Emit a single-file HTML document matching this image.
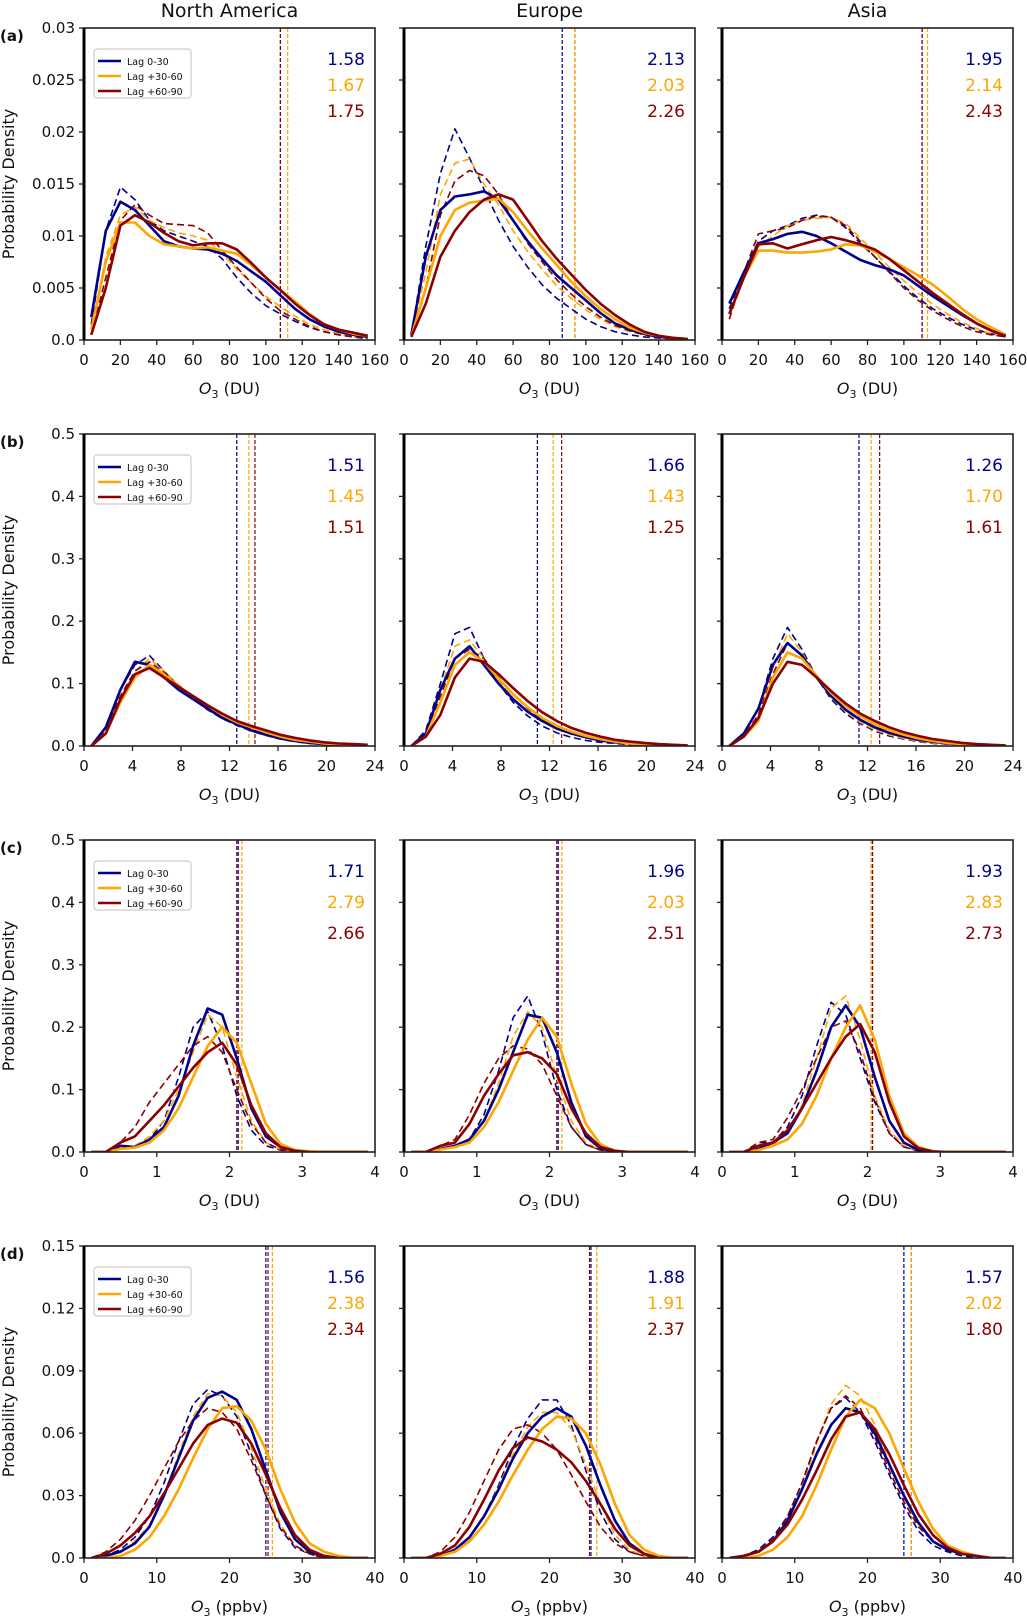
<!DOCTYPE html>
<html><head><meta charset="utf-8"><style>
body{margin:0;background:#fff;}
svg{display:block;font-family:"DejaVu Sans","Liberation Sans",sans-serif;}
</style></head><body>
<svg id="fig" width="1027" height="1619" viewBox="0 0 1027 1619" xmlns="http://www.w3.org/2000/svg"></svg>
<script>
// ---- x bins per row ----
const xRowA = [4,12,20,28,36,44,52,60,68,76,84,92,100,108,116,124,132,140,148,156];
const xRowB = [0.6,1.8,3.0,4.2,5.4,6.6,7.8,9.0,10.2,11.4,12.6,13.8,15.0,16.2,17.4,18.6,19.8,21.0,22.2,23.4];
const xRowC = [0.1,0.3,0.5,0.7,0.9,1.1,1.3,1.5,1.7,1.9,2.1,2.3,2.5,2.7,2.9,3.1,3.3,3.5,3.7,3.9];
const xRowD = [1,3,5,7,9,11,13,15,17,19,21,23,25,27,29,31,33,35,37,39];
// ---- axis settings ----
const xMaxRows = [160,24,4,40];
const yMaxRows = [0.03,0.5,0.5,0.15];
const xTicksRows = [[0,20,40,60,80,100,120,140,160],[0,4,8,12,16,20,24],[0,1,2,3,4],[0,10,20,30,40]];
const yTicksRows = [[0,0.005,0.01,0.015,0.02,0.025,0.03],[0,0.1,0.2,0.3,0.4,0.5],[0,0.1,0.2,0.3,0.4,0.5],[0,0.03,0.06,0.09,0.12,0.15]];
const yTickLabelsRows = [["0.0","0.005","0.01","0.015","0.02","0.025","0.03"],["0.0","0.1","0.2","0.3","0.4","0.5"],["0.0","0.1","0.2","0.3","0.4","0.5"],["0.0","0.03","0.06","0.09","0.12","0.15"]];
const xUnitsRows = ["DU","DU","DU","ppbv"];
const rowLetters = ["(a)","(b)","(c)","(d)"];
const colTitles = ["North America","Europe","Asia"];
// ---- row a (x1e-3) ----
const aNA = [
[2.2,10.5,13.3,12.5,11,9.5,9,8.8,8.7,8.3,7.6,6.6,5.6,4.3,3,2,1.3,0.8,0.5,0.3],
[1,7.5,11.3,11.3,10,9.2,9,8.8,8.9,8.6,8.3,7.2,6,4.8,3.7,2.5,1.5,1,0.6,0.4],
[0.5,5,11,12,11.3,10.3,9.5,9.1,9.3,9.3,8.7,7.4,6,4.8,3.5,2.4,1.5,1,0.7,0.4],
[1.5,10.5,14.7,13.5,11.5,10.5,10,9.5,9,7.8,6,4.5,3.3,2.5,1.8,1.2,0.8,0.5,0.3,0.1],
[1,8,12,12.8,11.5,10.8,10.3,10,9.6,8.3,6.8,5.5,4.2,3.2,2.3,1.5,1,0.6,0.3,0.2],
[0.5,6,11.5,13,12,11.2,11.1,11,10.3,8.6,7,5.5,4,2.8,2,1.3,0.8,0.5,0.3,0.2]];
const aEU = [
[0.5,8,12.5,13.8,14,14.3,13.5,11.5,9.5,7.8,6.2,5,3.8,2.6,1.6,1,0.6,0.3,0.2,0.1],
[0.3,5,10,12.5,13.2,13.4,13.6,12.3,10.5,8.8,7.2,5.6,4.2,3,2,1.2,0.7,0.4,0.2,0.1],
[0.3,3.5,8,10.5,12.3,13.5,14,13.5,11.5,9.5,7.8,6.3,4.8,3.5,2.4,1.5,0.8,0.4,0.2,0.1],
[0.5,9,16,20.3,17.5,14.5,11.5,9,7,5.3,4,3,2,1.3,0.8,0.5,0.3,0.2,0.1,0],
[0.4,6.5,14,17,17.4,15,13,10.5,8.5,6.8,5.2,4,2.9,2,1.3,0.8,0.5,0.3,0.1,0.1],
[0.4,5,12,15.3,16.3,15.8,14,11.5,9.3,7.5,5.8,4.4,3.2,2.2,1.4,0.9,0.5,0.3,0.1,0.1]];
const aAS = [
[3.5,6.5,9.3,9.7,10.2,10.4,10,9.3,8.5,7.7,7.2,6.8,6.2,5.2,4.2,3.3,2.4,1.6,0.9,0.4],
[2.5,6,8.6,8.6,8.4,8.4,8.5,8.7,9.2,9.1,8.5,7.8,7,6.2,5.3,4.2,3,2,1.2,0.5],
[2.5,6,9.2,9.3,8.8,9.2,9.6,9.9,9.6,9.2,8.7,7.8,6.7,5.6,4.5,3.5,2.5,1.6,0.9,0.4],
[3,6.5,9.5,10.5,11,11.7,12,11.8,10.8,9.3,8,6.6,5.2,4,3,2.2,1.5,1,0.6,0.3],
[2,6,9,10,11,11.5,11.7,11.8,11.2,9.8,8.4,7,5.7,4.5,3.4,2.5,1.7,1.1,0.6,0.3],
[2,6.5,10.2,10.5,10.8,11.5,11.9,11.8,11,9.5,8,6.5,5,3.8,2.8,2,1.3,0.8,0.5,0.3]];
// ---- row b ----
const bNA = [
[0,0.03,0.09,0.135,0.13,0.11,0.09,0.075,0.06,0.045,0.035,0.025,0.018,0.012,0.008,0.005,0.003,0.002,0.001,0],
[0,0.02,0.07,0.11,0.13,0.115,0.095,0.08,0.065,0.05,0.038,0.03,0.022,0.015,0.01,0.007,0.004,0.003,0.002,0.001],
[0,0.02,0.075,0.115,0.125,0.11,0.095,0.08,0.065,0.052,0.04,0.032,0.025,0.018,0.013,0.009,0.006,0.004,0.003,0.002],
[0,0.03,0.09,0.13,0.145,0.12,0.095,0.075,0.058,0.044,0.033,0.024,0.017,0.011,0.007,0.004,0.003,0.002,0.001,0],
[0,0.025,0.08,0.12,0.14,0.12,0.098,0.078,0.06,0.046,0.035,0.026,0.019,0.013,0.009,0.006,0.004,0.002,0.001,0],
[0,0.025,0.08,0.12,0.135,0.118,0.096,0.078,0.062,0.048,0.036,0.028,0.02,0.014,0.01,0.007,0.004,0.003,0.002,0.001]];
const bEU = [
[0,0.02,0.09,0.14,0.16,0.13,0.1,0.075,0.055,0.04,0.028,0.02,0.014,0.009,0.006,0.004,0.002,0.001,0,0],
[0,0.015,0.07,0.13,0.15,0.135,0.108,0.083,0.062,0.045,0.032,0.023,0.016,0.011,0.007,0.004,0.003,0.002,0.001,0],
[0,0.015,0.05,0.11,0.14,0.135,0.115,0.093,0.072,0.054,0.04,0.029,0.021,0.015,0.01,0.007,0.005,0.003,0.002,0.001],
[0,0.025,0.1,0.18,0.19,0.14,0.1,0.07,0.048,0.032,0.021,0.014,0.009,0.006,0.004,0.002,0.001,0,0,0],
[0,0.02,0.09,0.16,0.17,0.14,0.105,0.077,0.055,0.039,0.027,0.019,0.013,0.008,0.005,0.003,0.002,0.001,0,0],
[0,0.02,0.08,0.14,0.155,0.14,0.11,0.083,0.06,0.043,0.03,0.021,0.014,0.009,0.006,0.004,0.002,0.001,0,0]];
const bAS = [
[0,0.02,0.06,0.13,0.165,0.145,0.11,0.08,0.058,0.042,0.03,0.021,0.015,0.01,0.007,0.004,0.003,0.002,0.001,0],
[0,0.015,0.04,0.11,0.15,0.14,0.112,0.085,0.064,0.048,0.035,0.025,0.018,0.012,0.008,0.005,0.003,0.002,0.001,0],
[0,0.015,0.045,0.1,0.135,0.13,0.11,0.088,0.068,0.052,0.04,0.03,0.022,0.016,0.011,0.008,0.005,0.003,0.002,0.001],
[0,0.02,0.06,0.14,0.19,0.155,0.11,0.075,0.052,0.036,0.024,0.016,0.011,0.007,0.004,0.003,0.002,0.001,0,0],
[0,0.015,0.05,0.125,0.18,0.15,0.11,0.078,0.055,0.038,0.026,0.018,0.012,0.008,0.005,0.003,0.002,0.001,0,0],
[0,0.015,0.05,0.115,0.165,0.145,0.11,0.08,0.058,0.041,0.029,0.02,0.014,0.009,0.006,0.004,0.002,0.001,0,0]];
// ---- row c ----
const cNA = [
[0,0,0.01,0.008,0.02,0.04,0.09,0.17,0.23,0.22,0.15,0.07,0.025,0.008,0.002,0,0,0,0,0],
[0,0,0.005,0.007,0.015,0.035,0.07,0.12,0.17,0.2,0.175,0.11,0.045,0.013,0.003,0.001,0,0,0,0],
[0,0,0.015,0.025,0.05,0.075,0.105,0.135,0.16,0.175,0.14,0.075,0.03,0.008,0.002,0,0,0,0,0],
[0,0,0.005,0.01,0.02,0.05,0.12,0.2,0.225,0.17,0.09,0.035,0.01,0.003,0,0,0,0,0,0],
[0,0,0.005,0.01,0.025,0.05,0.1,0.16,0.22,0.2,0.12,0.05,0.015,0.004,0,0,0,0,0,0],
[0,0,0.015,0.04,0.08,0.11,0.14,0.17,0.185,0.16,0.1,0.045,0.015,0.004,0,0,0,0,0,0]];
const cEU = [
[0,0,0.005,0.01,0.02,0.05,0.1,0.16,0.22,0.215,0.16,0.08,0.025,0.006,0.001,0,0,0,0,0],
[0,0,0.004,0.008,0.015,0.04,0.08,0.13,0.18,0.215,0.185,0.11,0.045,0.012,0.002,0,0,0,0,0],
[0,0,0.01,0.015,0.045,0.09,0.125,0.155,0.16,0.15,0.125,0.07,0.03,0.008,0.002,0,0,0,0,0],
[0,0,0.005,0.01,0.02,0.06,0.13,0.215,0.25,0.19,0.1,0.04,0.012,0.003,0,0,0,0,0,0],
[0,0,0.004,0.01,0.02,0.05,0.11,0.185,0.225,0.2,0.12,0.05,0.015,0.003,0,0,0,0,0,0],
[0,0,0.01,0.02,0.06,0.11,0.15,0.17,0.165,0.14,0.09,0.04,0.012,0.003,0,0,0,0,0,0]];
const cAS = [
[0,0,0.005,0.015,0.03,0.07,0.13,0.2,0.235,0.2,0.12,0.05,0.015,0.003,0,0,0,0,0,0],
[0,0,0.003,0.01,0.02,0.045,0.09,0.15,0.2,0.235,0.18,0.09,0.03,0.008,0.001,0,0,0,0,0],
[0,0,0.01,0.015,0.035,0.07,0.11,0.15,0.185,0.205,0.16,0.08,0.025,0.006,0.001,0,0,0,0,0],
[0,0,0.015,0.015,0.04,0.09,0.17,0.24,0.22,0.15,0.08,0.03,0.008,0.002,0,0,0,0,0,0],
[0,0,0.01,0.012,0.03,0.075,0.15,0.23,0.25,0.18,0.09,0.035,0.01,0.002,0,0,0,0,0,0],
[0,0,0.015,0.02,0.055,0.1,0.15,0.2,0.21,0.16,0.085,0.03,0.008,0.002,0,0,0,0,0,0]];
// ---- row d ----
const dNA = [
[0,0.001,0.003,0.007,0.015,0.03,0.048,0.066,0.077,0.08,0.076,0.062,0.042,0.022,0.009,0.003,0.001,0,0,0],
[0,0,0.001,0.004,0.01,0.02,0.033,0.048,0.062,0.072,0.073,0.066,0.052,0.033,0.017,0.007,0.003,0.001,0,0],
[0,0.002,0.006,0.012,0.02,0.031,0.043,0.055,0.064,0.067,0.065,0.055,0.04,0.024,0.011,0.004,0.001,0,0,0],
[0,0.001,0.004,0.01,0.02,0.036,0.056,0.074,0.081,0.078,0.068,0.05,0.03,0.014,0.005,0.002,0,0,0,0],
[0,0.001,0.003,0.008,0.016,0.03,0.05,0.068,0.079,0.078,0.07,0.053,0.033,0.016,0.006,0.002,0,0,0,0],
[0,0.003,0.009,0.018,0.03,0.043,0.056,0.066,0.072,0.07,0.062,0.047,0.03,0.015,0.006,0.002,0,0,0,0]];
const dEU = [
[0,0,0.001,0.004,0.01,0.02,0.033,0.048,0.06,0.068,0.072,0.068,0.054,0.035,0.018,0.007,0.002,0,0,0],
[0,0,0.001,0.003,0.008,0.016,0.027,0.04,0.052,0.062,0.068,0.067,0.06,0.045,0.026,0.011,0.004,0.001,0,0],
[0,0,0.002,0.006,0.015,0.028,0.042,0.053,0.058,0.056,0.052,0.046,0.037,0.026,0.014,0.006,0.002,0,0,0],
[0,0,0.001,0.004,0.01,0.02,0.035,0.053,0.067,0.076,0.076,0.064,0.042,0.022,0.009,0.003,0.001,0,0,0],
[0,0,0.001,0.004,0.01,0.02,0.034,0.05,0.063,0.07,0.07,0.062,0.045,0.026,0.011,0.004,0.001,0,0,0],
[0,0,0.003,0.01,0.022,0.037,0.052,0.062,0.064,0.06,0.052,0.04,0.027,0.015,0.007,0.003,0.001,0,0,0]];
const dAS = [
[0,0.001,0.003,0.008,0.018,0.033,0.05,0.064,0.072,0.07,0.06,0.045,0.03,0.017,0.008,0.004,0.002,0.001,0,0],
[0,0,0.001,0.004,0.01,0.02,0.035,0.052,0.068,0.076,0.072,0.06,0.043,0.027,0.014,0.006,0.003,0.001,0,0],
[0,0.001,0.003,0.008,0.016,0.028,0.042,0.057,0.068,0.07,0.062,0.05,0.035,0.021,0.011,0.005,0.002,0.001,0,0],
[0,0.001,0.004,0.01,0.02,0.036,0.056,0.072,0.077,0.07,0.056,0.04,0.025,0.013,0.006,0.003,0.001,0,0,0],
[0,0.001,0.003,0.008,0.017,0.033,0.055,0.074,0.083,0.078,0.064,0.046,0.029,0.016,0.008,0.004,0.002,0.001,0,0],
[0,0.001,0.003,0.009,0.02,0.036,0.056,0.072,0.078,0.072,0.058,0.042,0.027,0.015,0.008,0.004,0.002,0.001,0,0]];
// ---- vertical mean lines [blue, orange, red] ----
const vlinesA = [[108,112,108],[87,94,94],[110,113,110]];
const vlinesB = [[12.6,13.6,14.1],[11.0,12.3,13.0],[11.3,12.3,13.0]];
const vlinesC = [[2.12,2.17,2.1],[2.12,2.17,2.1],[2.05,2.05,2.07]];
const vlinesD = [[25,25.9,25.3],[25.7,26.5,25.5],[25,26,26]];
// ---- printed ratios [blue, orange, red] ----
const ratiosA = [["1.58","1.67","1.75"],["2.13","2.03","2.26"],["1.95","2.14","2.43"]];
const ratiosB = [["1.51","1.45","1.51"],["1.66","1.43","1.25"],["1.26","1.70","1.61"]];
const ratiosC = [["1.71","2.79","2.66"],["1.96","2.03","2.51"],["1.93","2.83","2.73"]];
const ratiosD = [["1.56","2.38","2.34"],["1.88","1.91","2.37"],["1.57","2.02","1.80"]];

const rowXs = [xRowA,xRowB,xRowC,xRowD];
const rowData = [[aNA,aEU,aAS],[bNA,bEU,bAS],[cNA,cEU,cAS],[dNA,dEU,dAS]];
const rowScale = [0.001,1,1,1];
const rowVlines = [vlinesA,vlinesB,vlinesC,vlinesD];
const rowRatios = [ratiosA,ratiosB,ratiosC,ratiosD];
const seriesNames = ["lag-0-30","lag-30-60","lag-60-90"];
const colors = ["#00008b","#ffa500","#8b0000"];

const colX0 = [84,404,722], colW = 291;
const rowY0 = [28,434,840,1246], rowH = 312;
const NS = "http://www.w3.org/2000/svg";
const svg = document.getElementById('fig');
function el(tag, attrs, parent){const e=document.createElementNS(NS,tag);for(const k in attrs)e.setAttribute(k,attrs[k]);(parent||svg).appendChild(e);return e;}

for(let r=0;r<4;r++){
  for(let c=0;c<3;c++){
    const x0=colX0[c], y0=rowY0[r];
    const xs=v=>x0+v/xMaxRows[r]*colW;
    const ys=v=>y0+rowH-v/yMaxRows[r]*rowH;
    const g=el('g',{});
    
    
    const clip=el('clipPath',{id:'cp'+r+c},g);
    el('rect',{x:x0,y:y0,width:colW,height:rowH},clip);
    // vlines
    const vl=rowVlines[r][c];
    [0,2,1].forEach(i=>{
      const l=el('line',{x1:xs(vl[i]),x2:xs(vl[i]),y1:y0,y2:y0+rowH,stroke:colors[i],'stroke-width':1.2,'stroke-dasharray':'4,2'},g);
      
      
    });
    // series: dashed then solid
    const data=rowData[r][c], xv=rowXs[r];
    [3,4,5,0,1,2].forEach(si=>{
      const ci=si%3, dashed=si>=3;
      const pts=data[si].map((v,k)=>xs(xv[k]).toFixed(1)+','+ys(v*rowScale[r]).toFixed(1)).join(' ');
      const p=el('polyline',{points:pts,fill:'none',stroke:colors[ci],'stroke-width':dashed?1.6:2.6,'stroke-linejoin':'round','clip-path':'url(#cp'+r+c+')'},g);
      if(dashed)p.setAttribute('stroke-dasharray','7,4');
      
      
    });
    // frame
    el('rect',{x:x0,y:y0,width:colW,height:rowH,fill:'none',stroke:'#222','stroke-width':1.6},g);
    el('line',{x1:x0,x2:x0,y1:y0,y2:y0+rowH,stroke:'#000','stroke-width':3},g);
    // x ticks
    xTicksRows[r].forEach(t=>{
      el('line',{x1:xs(t),x2:xs(t),y1:y0+rowH,y2:y0+rowH+5,stroke:'#222','stroke-width':1.3},g);
      const tx=el('text',{x:xs(t),y:y0+rowH+25,'font-size':15,'text-anchor':'middle',fill:'#111'},g);
      tx.textContent=t;
      
      
    });
    // y ticks
    yTicksRows[r].forEach((t,k)=>{
      el('line',{x1:x0-5,x2:x0,y1:ys(t),y2:ys(t),stroke:'#222','stroke-width':1.3},g);
      if(c===0){
        const ty=el('text',{x:x0-9,y:ys(t)+5,'font-size':15,'text-anchor':'end',fill:'#111'},g);
        ty.textContent=yTickLabelsRows[r][k];
        
        
      }
    });
    // x-axis title
    const xt=el('text',{x:x0+colW/2,y:y0+rowH+54,'font-size':16,'text-anchor':'middle',fill:'#111'},g);
    xt.innerHTML='<tspan font-style="italic">O</tspan><tspan font-size="11" dy="4">3</tspan><tspan dy="-4"> ('+xUnitsRows[r]+')</tspan>';
    
    
    // ratios
    const rr=rowRatios[r][c];
    const dy = r===0||r===3 ? 26 : 31;
    for(let i=0;i<3;i++){
      const t=el('text',{x:x0+colW-10,y:y0+37+i*dy,'font-size':17,'text-anchor':'end',fill:colors[i]},g);
      t.textContent=rr[i];
      
      
    }
    if(c===0){
      const lg=el('g',{},g);
      
      
      el('rect',{x:x0+10,y:y0+21,width:97,height:49,rx:3,fill:'#fff',stroke:'#ccc','stroke-width':1.2},lg);
      ['Lag 0-30','Lag +30-60','Lag +60-90'].forEach((lab,i)=>{
        const yy=y0+36+i*15;
        el('line',{x1:x0+14,x2:x0+37,y1:yy-3,y2:yy-3,stroke:colors[i],'stroke-width':2.6},lg);
        const lt=el('text',{x:x0+43,y:yy+1,'font-size':9.5,fill:'#111'},lg);
        lt.textContent=lab;
        
        
      });
      const yl=el('text',{x:0,y:0,'font-size':16,'text-anchor':'middle',fill:'#111',transform:'translate(14,'+(y0+rowH/2)+') rotate(-90)'},g);
      yl.textContent='Probability Density';
      
      
      const rl=el('text',{x:0,y:y0+13,'font-size':15,'font-weight':'bold',fill:'#111'},g);
      rl.textContent=rowLetters[r];
      
      
    }
    if(r===0){
      const ct=el('text',{x:x0+colW/2,y:17,'font-size':19,'text-anchor':'middle',fill:'#111'},g);
      ct.textContent=colTitles[c];
      
      
    }
  }
}
</script>
</body></html>
